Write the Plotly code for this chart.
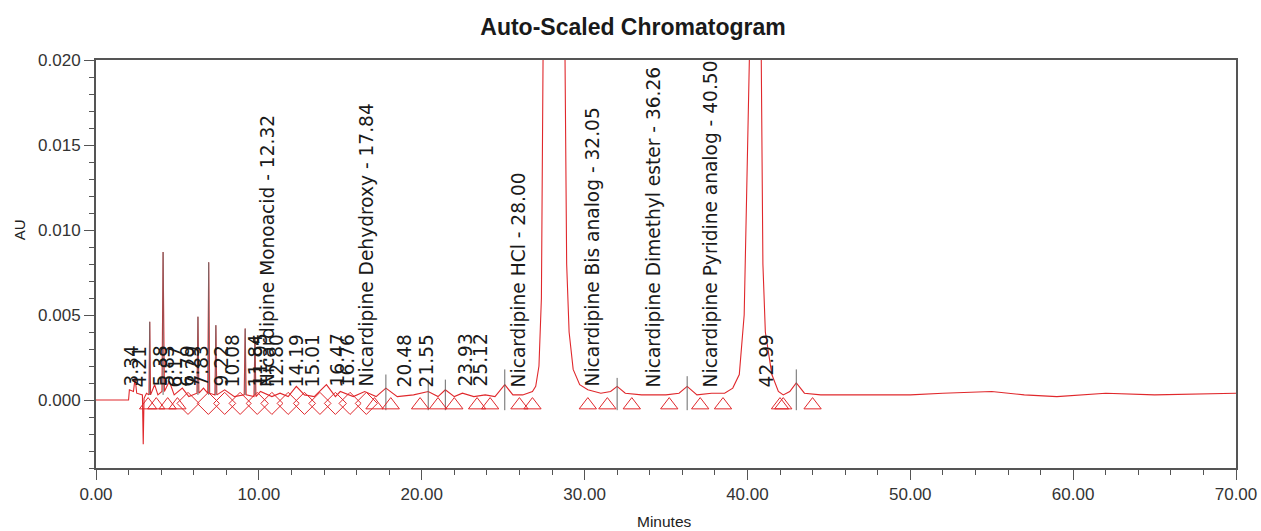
import plotly.graph_objects as go

# ---------------- data ----------------
rt_min = [0.0, 2.0, 2.05, 2.3, 2.4, 2.5, 2.85, 2.9, 2.95, 3.1,
          3.25, 3.3, 3.35, 3.6, 3.8, 4.05, 4.12, 4.2, 4.5, 4.8,
          5.3, 5.7, 6.2, 6.26, 6.32, 6.6, 6.86, 6.92, 6.98, 7.3,
          7.36, 7.42, 7.9, 8.5, 9.1, 9.16, 9.22, 9.7, 9.76, 9.82,
          10.1, 10.8, 11.3, 11.8, 12.3, 12.8, 13.4, 14.15, 14.7, 15.0,
          15.8, 16.5, 17.2, 17.8, 18.5, 19.5, 20.4, 21.0, 21.45, 22.0,
          22.5, 23.2, 23.9, 24.5, 25.1, 25.6, 26.2, 26.8, 27.0, 27.2,
          27.35, 27.45, 27.55, 28.7, 28.8, 28.9, 29.05, 29.3, 29.7, 30.2,
          31.0, 31.6, 32.0, 32.5, 33.5, 35.0, 35.8, 36.3, 36.9, 37.8,
          38.6, 39.1, 39.5, 39.8, 39.95, 40.05, 40.15, 40.75, 40.85, 40.95,
          41.1, 41.5, 41.9, 42.2, 42.6, 43.0, 43.5, 44.5, 47.0, 50.0,
          52.0, 55.0, 57.0, 59.0, 62.0, 65.0, 70.0]
absorbance_au = [0.0, 0.0, 0.0006, 0.0005, 0.0013, 0.0004, 0.0003, -0.0026, 0.0001, 0.0004,
                 0.0003, 0.0046, 0.0003, 0.0009, 0.0003, 0.0005, 0.0087, 0.0005, 0.0011, 0.0003,
                 0.0007, 0.0002, 0.0004, 0.0049, 0.0004, 0.0007, 0.0004, 0.0081, 0.0004, 0.0003,
                 0.0044, 0.0003, 0.0006, 0.0002, 0.0003, 0.0042, 0.0003, 0.0002, 0.0037, 0.0002,
                 0.0005, 0.0002, 0.0004, 0.0002, 0.0008, 0.0003, 0.0002, 0.0009, 0.0002, 0.0005,
                 0.0002, 0.0005, 0.0002, 0.0007, 0.0002, 0.0003, 0.0005, 0.0002, 0.0006, 0.0002,
                 0.0004, 0.0002, 0.0003, 0.0002, 0.0009, 0.0003, 0.0003, 0.0005, 0.0008, 0.0020,
                 0.0060, 0.0200, 0.0500, 0.0500, 0.0200, 0.0080, 0.0040, 0.0018, 0.0009, 0.0006,
                 0.0004, 0.0005, 0.0008, 0.0004, 0.0003, 0.0003, 0.0004, 0.0008, 0.0003, 0.0004,
                 0.0004, 0.0007, 0.0015, 0.0050, 0.0120, 0.0250, 0.0500, 0.0500, 0.0200, 0.0080,
                 0.0040, 0.0015, 0.0005, 0.0003, 0.0005, 0.0010, 0.0004, 0.0003, 0.0003, 0.0003,
                 0.0004, 0.0005, 0.0003, 0.0002, 0.0004, 0.0003, 0.0004]

# peak apex tick marks (dark vertical lines)
apex_rt = [3.3, 4.12, 6.26, 6.92, 7.36, 9.16, 9.76, 17.8, 20.4, 21.45, 25.1, 32.0, 36.3, 43.0]
apex_top = [0.0046, 0.0087, 0.0049, 0.0081, 0.0044, 0.0042, 0.0037,
            0.0015, 0.0012, 0.0012, 0.0018, 0.0013, 0.0014, 0.0018]
apex_bottom = [0.0003, 0.0003, 0.0003, 0.0003, 0.0003, 0.0003, 0.0003,
               -0.0006, -0.0006, -0.0006, -0.0006, -0.0006, -0.0006, -0.0006]

# integration start/end markers
triangle_rt = [3.2, 3.7, 4.4, 5.0, 17.1, 18.1, 19.9, 21.0, 22.0, 23.4, 24.2, 26.0, 26.8,
               30.2, 31.4, 32.9, 35.2, 37.1, 38.5, 42.0, 42.2, 44.0]
diamond_rt = [5.65, 6.9, 7.9, 8.85, 9.9, 10.8, 11.8, 12.8, 13.75, 14.7, 15.6, 16.6]

# peak labels and where they are drawn (minutes)
peak_labels = ["3.34", "4.21", "5.38", "5.83", "6.17", "6.79", "7.29", "7.83", "9.22", "10.08",
               "11.84", "11.95", "Nicardipine Monoacid - 12.32", "12.80", "14.19", "15.01",
               "16.47", "16.76", "Nicardipine Dehydroxy - 17.84", "20.48", "21.55", "23.93",
               "25.12", "Nicardipine HCl - 28.00", "Nicardipine Bis analog - 32.05",
               "Nicardipine Dimethyl ester - 36.26", "Nicardipine Pyridine analog - 40.50", "42.99"]
label_x = [2.15, 2.64, 3.93, 4.36, 4.85, 5.6, 5.95, 6.45, 7.68, 8.35,
           9.82, 10.07, 10.56, 11.11, 12.28, 13.32, 14.8, 15.41, 16.58, 18.97,
           20.32, 22.66, 23.58, 25.91, 30.46, 34.2, 37.7, 41.14]

x_ticks = [0, 10, 20, 30, 40, 50, 60, 70]
y_ticks = [0.0, 0.005, 0.010, 0.015, 0.020]

RED = "#e0282c"
SANS = "Liberation Sans, Arial, sans-serif"

fig = go.Figure()

fig.add_trace(go.Scatter(x=rt_min, y=absorbance_au, mode="lines",
                         line=dict(color=RED, width=1.1), hoverinfo="skip", showlegend=False))

ax, ay = [], []
for t, lo, hi in zip(apex_rt, apex_bottom, apex_top):
    ax += [t, t, None]
    ay += [lo, hi, None]
fig.add_trace(go.Scatter(x=ax, y=ay, mode="lines", line=dict(color="#6a6a6a", width=1),
                         hoverinfo="skip", showlegend=False))

fig.add_trace(go.Scatter(x=triangle_rt, y=[-0.0003] * len(triangle_rt), mode="markers",
                         marker=dict(symbol="triangle-up-open", size=15, color=RED,
                                     line=dict(color=RED, width=1)),
                         hoverinfo="skip", showlegend=False))
fig.add_trace(go.Scatter(x=diamond_rt, y=[-0.0002] * len(diamond_rt), mode="markers",
                         marker=dict(symbol="diamond-open", size=17, color=RED,
                                     line=dict(color=RED, width=1)),
                         hoverinfo="skip", showlegend=False))

for txt, xl in zip(peak_labels, label_x):
    fig.add_annotation(x=xl, y=0.00065, xref="x", yref="y", text=txt, showarrow=False,
                       textangle=-90, xanchor="center", yanchor="bottom",
                       font=dict(family="DejaVu Sans, sans-serif", size=18.6, color="#1a1a1a"))

fig.add_annotation(x=0.499, y=-0.132, xref="paper", yref="paper", text="Minutes",
                   xanchor="center", yanchor="middle",
                   showarrow=False, font=dict(family=SANS, size=15.5, color="#222"))
fig.add_annotation(x=-0.0675, y=0.583, xref="paper", yref="paper", text="AU", textangle=-90,
                   xanchor="center", yanchor="middle",
                   showarrow=False, font=dict(family=SANS, size=15, color="#222"))

fig.update_layout(
    width=1261, height=531,
    margin=dict(l=96, r=25, t=60, b=63, autoexpand=False),
    paper_bgcolor="white", plot_bgcolor="white",
    title=dict(text="<b>Auto-Scaled Chromatogram</b>", x=0.502, xanchor="center",
               y=0.949, yanchor="middle",
               font=dict(family=SANS, size=23, color="#1a1a1a")),
    showlegend=False,
)
fig.update_xaxes(range=[0, 70], tickvals=x_ticks, ticktext=[f"{v:.2f}" for v in x_ticks],
                 ticks="outside", ticklen=10, tickwidth=1, tickcolor="#555",
                 ticklabeloverflow="allow", automargin=False,
                 minor=dict(dtick=2, ticks="outside", ticklen=5, tickcolor="#555"),
                 showline=True, linecolor="#555", linewidth=2, mirror=True,
                 showgrid=False, zeroline=False,
                 tickfont=dict(family=SANS, size=17, color="#333"))
fig.update_yaxes(range=[-0.004, 0.020], tickvals=y_ticks, ticktext=[f"{v:.3f}" for v in y_ticks],
                 ticks="outside", ticklen=10, tickwidth=1, tickcolor="#555",
                 automargin=False,
                 minor=dict(dtick=0.001, ticks="outside", ticklen=5, tickcolor="#555"),
                 showline=True, linecolor="#555", linewidth=2, mirror=True,
                 showgrid=False, zeroline=False,
                 tickfont=dict(family=SANS, size=17, color="#333"))

fig.write_html("out.html")
